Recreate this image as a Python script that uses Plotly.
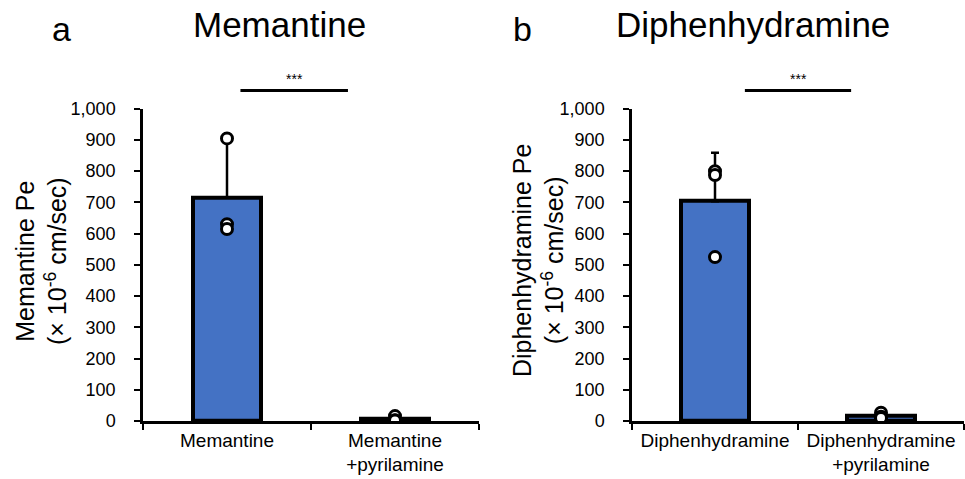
import plotly.graph_objects as go

# ---------------- data ----------------
categories_a = ["Memantine", "Memantine<br>+pyrilamine"]
means_a = [716, 7]
err_a = [185, 8]
points_a = [[905, 630, 615], [16, 3, 2]]

categories_b = ["Diphenhydramine", "Diphenhydramine<br>+pyrilamine"]
means_b = [704, 17]
err_b = [155, 4]
points_b = [[800, 788, 525], [27, 14, 10]]

y_ticks = [0, 100, 200, 300, 400, 500, 600, 700, 800, 900, 1000]
titles = ["Memantine", "Diphenhydramine"]
panel_letters = ["a", "b"]
y_titles = ["Memantine Pe<br>(× 10<sup>-6</sup> cm/sec)",
            "Diphenhydramine Pe<br>(× 10<sup>-6</sup> cm/sec)"]

# ---------------- layout helpers ----------------
W, H = 965, 479
FONT = "Liberation Sans, Arial, sans-serif"
BLUE = "#4472C4"


def px(x):
    return x / W


def py(y):
    return 1 - y / H


fig = go.Figure()

panels = [
    (categories_a, means_a, err_a, points_a, "x", "y"),
    (categories_b, means_b, err_b, points_b, "x2", "y2"),
]
for cats, means, errs, pts, xa, ya in panels:
    fig.add_trace(go.Bar(
        x=cats, y=means, xaxis=xa, yaxis=ya, width=0.41,
        marker=dict(color=BLUE, line=dict(color="black", width=4)),
        error_y=dict(type="data", array=errs, arrayminus=[0] * len(errs),
                     symmetric=False, color="black", thickness=2.5, width=4),
        showlegend=False,
    ))
    xs, ys = [], []
    for c, p in zip(cats, pts):
        xs += [c] * len(p)
        ys += p
    fig.add_trace(go.Scatter(
        x=xs, y=ys, xaxis=xa, yaxis=ya, mode="markers",
        marker=dict(symbol="circle", size=11, color="white",
                    line=dict(color="black", width=3)),
        showlegend=False,
    ))

ydom = [py(429), py(103)]
axis_common = dict(showline=True, linecolor="black", linewidth=2.5,
                   ticks="outside", tickcolor="black", tickwidth=2,
                   ticklen=6, showgrid=False, zeroline=False)
xfont = dict(family=FONT, size=19, color="black")
yfont = dict(family=FONT, size=18, color="black")

fig.update_layout(
    width=W, height=H, autosize=False,
    margin=dict(l=0, r=0, t=0, b=0, pad=0),
    paper_bgcolor="white", plot_bgcolor="white",
    font=dict(family=FONT, color="black"),
    bargap=0,
    xaxis=dict(domain=[px(143), px(479)], anchor="y", type="category",
               range=[-0.5, 1.5], tickson="boundaries", tickfont=xfont,
               **axis_common),
    yaxis=dict(domain=ydom, anchor="x", range=[0, 1000], tickfont=yfont,
               tickvals=y_ticks, tickformat=",", ticklabelstandoff=15,
               **axis_common),
    xaxis2=dict(domain=[px(632), px(964)], anchor="y2", type="category",
                range=[-0.5, 1.5], tickson="boundaries", tickfont=xfont,
                **axis_common),
    yaxis2=dict(domain=ydom, anchor="x2", range=[0, 1000], tickfont=yfont,
                tickvals=y_ticks, tickformat=",", ticklabelstandoff=15,
                **axis_common),
)

annotations = []
shapes = []
# panel letters and titles
for letter, lx, title, tx in zip(panel_letters, [61, 522], titles, [279, 753]):
    annotations.append(dict(text=letter, x=px(lx), y=py(20), xref="paper", yref="paper",
                            xanchor="center", yanchor="middle",
                            showarrow=False, font=dict(size=34, family=FONT)))
    annotations.append(dict(text=title, x=px(tx), y=py(15), xref="paper", yref="paper",
                            xanchor="center", yanchor="middle",
                            showarrow=False, font=dict(size=35, family=FONT)))
# y-axis titles
for yt, yx in zip(y_titles, [41, 538]):
    annotations.append(dict(text=yt, x=px(yx), y=py(262), xref="paper", yref="paper",
                            xanchor="center", yanchor="middle",
                            textangle=-90, showarrow=False,
                            font=dict(size=25, family=FONT)))
# significance brackets (in category units of each panel)
for xr, x0, x1 in [("x", 0.08, 0.72), ("x2", 0.18, 0.82)]:
    shapes.append(dict(type="line", xref=xr, yref="paper", x0=x0, x1=x1,
                       y0=py(84), y1=py(84), line=dict(color="black", width=3)))
    annotations.append(dict(text="***", xref=xr, yref="paper", x=(x0 + x1) / 2,
                            y=py(72), xanchor="center", yanchor="middle",
                            showarrow=False, font=dict(size=14, family=FONT)))

fig.update_layout(annotations=annotations, shapes=shapes)

post = ("document.body.style.margin='0';document.body.style.padding='0';"
        "document.body.style.overflow='hidden';"
        "var gd=document.getElementById('{plot_id}');"
        "Plotly.relayout(gd,{width:%d,height:%d});" % (W, H))
fig.write_html("out.html", post_script=post,
               config={"responsive": False, "displayModeBar": False})
